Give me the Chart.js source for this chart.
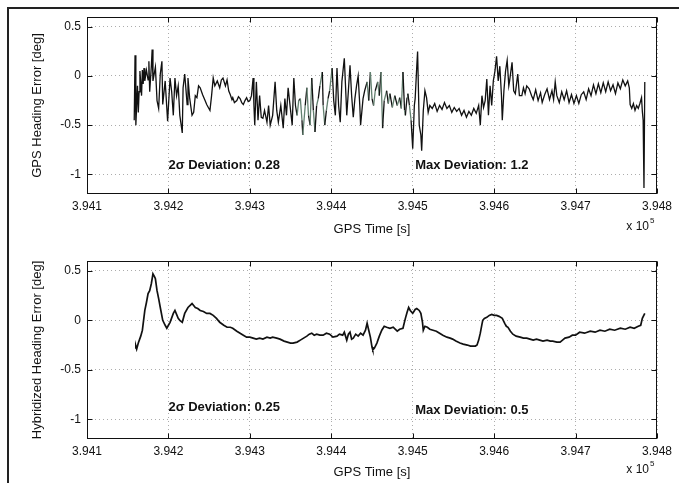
<!DOCTYPE html>
<html><head><meta charset="utf-8">
<script src="https://cdn.jsdelivr.net/npm/chart.js@4.4.1/dist/chart.umd.min.js"></script>
<style>
html,body{margin:0;padding:0;background:#fff;}
body{width:679px;height:483px;position:relative;overflow:hidden;}
#frame{position:absolute;left:7px;top:7px;width:720px;height:520px;border-top:2px solid #222;border-left:2px solid #222;}
canvas{position:absolute;left:0;}
#c1{top:0;}
#c2{top:240px;}
</style></head><body>
<div id="frame"></div>
<canvas id="c1" width="679" height="240"></canvas>
<canvas id="c2" width="679" height="243"></canvas>
<script>
// ---- tick values / labels (time in units of 1e5 s) ----
const xTickValues = [3.941, 3.942, 3.943, 3.944, 3.945, 3.946, 3.947, 3.948];
const xTickLabels = ['3.941', '3.942', '3.943', '3.944', '3.945', '3.946', '3.947', '3.948'];
const yTickValues = [-1, -0.5, 0, 0.5];
const yTickLabels = ['-1', '-0.5', '0', '0.5'];

// ---- GPS heading error (deg) ----
const gpsTime = [
3.94158,3.94159,3.94160,3.94162,3.94163,3.94164,3.94165,3.94167,3.94168,3.94169,
3.94170,3.94171,3.94173,3.94175,3.94176,3.94177,3.94179,3.94180,3.94181,3.94184,
3.94186,3.94188,3.94190,3.94192,3.94193,3.94196,3.94199,3.94202,3.94204,3.94206,
3.94208,3.94210,3.94212,3.94214,3.94217,3.94218,3.94220,3.94223,3.94224,3.94226,
3.94229,3.94231,3.94233,3.94235,3.94237,3.94239,3.94242,3.94245,3.94247,3.94249,
3.94251,3.94253,3.94255,3.94257,3.94260,3.94263,3.94265,3.94267,3.94270,3.94272,
3.94274,3.94276,3.94278,3.94279,3.94281,3.94284,3.94286,3.94288,3.94290,3.94292,
3.94294,3.94296,3.94298,3.94300,3.94302,3.94304,3.94305,3.94306,3.94308,3.94310,
3.94312,3.94314,3.94316,3.94318,3.94321,3.94323,3.94325,3.94328,3.94331,3.94333,
3.94335,3.94338,3.94341,3.94343,3.94345,3.94347,3.94350,3.94352,3.94354,3.94356,
3.94358,3.94360,3.94362,3.94364,3.94365,3.94368,3.94370,3.94372,3.94374,3.94376,
3.94378,3.94380,3.94382,3.94384,3.94386,3.94389,3.94390,3.94392,3.94394,3.94396,
3.94398,3.94401,3.94403,3.94405,3.94407,3.94409,3.94411,3.94413,3.94416,3.94418,
3.94419,3.94421,3.94423,3.94425,3.94427,3.94429,3.94431,3.94433,3.94435,3.94436,
3.94439,3.94441,3.94444,3.94446,3.94448,3.94450,3.94452,3.94454,3.94457,3.94459,
3.94461,3.94463,3.94465,3.94468,3.94470,3.94472,3.94475,3.94478,3.94481,3.94484,
3.94486,3.94488,3.94490,3.94491,3.94493,3.94494,3.94496,3.94498,3.94500,3.94502,
3.94503,3.94505,3.94506,3.94508,3.94510,3.94511,3.94513,3.94515,3.94517,3.94519,
3.94521,3.94524,3.94527,3.94530,3.94533,3.94536,3.94539,3.94542,3.94545,3.94548,
3.94551,3.94554,3.94557,3.94560,3.94563,3.94566,3.94569,3.94572,3.94575,3.94578,
3.94581,3.94583,3.94585,3.94587,3.94589,3.94591,3.94593,3.94595,3.94597,3.94599,
3.94601,3.94603,3.94605,3.94607,3.94609,3.94610,3.94612,3.94614,3.94616,3.94618,
3.94619,3.94622,3.94624,3.94626,3.94629,3.94631,3.94634,3.94636,3.94638,3.94640,
3.94643,3.94646,3.94648,3.94651,3.94654,3.94657,3.94659,3.94662,3.94665,3.94668,
3.94671,3.94673,3.94675,3.94677,3.94680,3.94683,3.94686,3.94689,3.94692,3.94695,
3.94698,3.94701,3.94704,3.94707,3.94710,3.94713,3.94716,3.94719,3.94722,3.94725,
3.94728,3.94731,3.94734,3.94737,3.94740,3.94743,3.94746,3.94749,3.94752,3.94755,
3.94758,3.94761,3.94764,3.94766,3.94767,3.94769,3.94771,3.94773,3.94775,3.94777,
3.94779,3.94781,3.94782,3.94783,3.94784,3.94785
];
const gpsError = [
-0.45,0.21,-0.50,-0.10,-0.37,-0.16,0.05,-0.20,0.06,-0.08,
0.08,-0.05,0.06,-0.04,0.15,-0.16,0.10,0.27,-0.05,0.09,
-0.25,-0.33,0.02,0.15,-0.29,-0.05,-0.46,-0.02,-0.16,-0.40,
-0.02,-0.20,-0.10,-0.40,-0.58,-0.12,0.02,-0.29,-0.02,-0.22,
-0.40,-0.37,-0.20,-0.22,-0.10,-0.12,-0.19,-0.25,-0.29,-0.32,
-0.35,-0.20,-0.02,-0.10,-0.05,-0.12,-0.04,-0.02,-0.10,-0.04,
-0.15,-0.19,-0.24,-0.22,-0.27,-0.25,-0.21,-0.23,-0.27,-0.29,
-0.25,-0.22,-0.26,-0.25,-0.20,-0.02,-0.30,-0.50,-0.06,-0.45,
-0.20,-0.42,-0.43,-0.35,-0.47,-0.30,-0.50,-0.40,-0.06,-0.35,
-0.47,-0.30,-0.53,-0.23,-0.40,-0.12,-0.35,-0.50,-0.02,-0.30,
-0.40,-0.25,-0.23,-0.45,-0.60,-0.30,-0.12,-0.40,-0.50,-0.02,
-0.35,-0.57,-0.30,-0.23,-0.10,0.04,-0.30,-0.50,-0.35,-0.23,
-0.15,0.08,-0.25,-0.40,0.08,-0.30,-0.47,-0.06,0.18,-0.20,
-0.40,-0.15,0.11,-0.20,-0.42,-0.23,-0.10,0.00,-0.30,-0.50,
-0.23,-0.15,-0.06,-0.25,0.04,-0.23,-0.30,-0.15,-0.06,-0.20,
0.04,-0.53,-0.25,-0.15,-0.28,-0.18,-0.32,-0.20,-0.30,-0.22,
-0.33,0.04,-0.35,-0.40,-0.22,-0.18,-0.30,-0.45,-0.74,-0.30,
-0.23,0.10,0.25,-0.50,-0.60,-0.76,-0.35,-0.15,-0.22,-0.37,
-0.30,-0.33,-0.28,-0.36,-0.30,-0.34,-0.27,-0.33,-0.30,-0.37,
-0.32,-0.36,-0.33,-0.40,-0.35,-0.42,-0.36,-0.40,-0.33,-0.38,
-0.30,-0.50,-0.20,-0.32,-0.25,-0.03,-0.40,-0.10,-0.30,-0.05,
0.05,0.20,-0.05,0.10,-0.20,-0.45,-0.15,0.05,0.16,-0.10,
-0.05,0.14,-0.15,-0.18,0.02,-0.20,-0.20,-0.12,-0.18,-0.10,
-0.13,-0.20,-0.24,-0.14,-0.25,-0.17,-0.27,-0.19,-0.13,-0.24,
-0.15,-0.24,-0.06,-0.20,-0.27,-0.16,-0.24,-0.15,-0.27,-0.19,
-0.28,-0.20,-0.28,-0.19,-0.16,-0.24,-0.13,-0.20,-0.09,-0.18,
-0.08,-0.17,-0.07,-0.16,-0.06,-0.15,-0.09,-0.18,-0.07,-0.13,
-0.04,-0.10,-0.05,-0.12,-0.29,-0.33,-0.28,-0.35,-0.30,-0.33,
-0.28,-0.22,-0.36,-0.45,-1.14,-0.06
];

// ---- Hybridized heading error (deg) ----
const hybTime = [
3.94159,3.94160,3.94161,3.94163,3.94166,3.94168,3.94171,3.94173,3.94175,3.94177,
3.94179,3.94181,3.94183,3.94184,3.94186,3.94188,3.94190,3.94193,3.94196,3.94198,
3.94200,3.94202,3.94206,3.94208,3.94210,3.94212,3.94214,3.94217,3.94220,3.94224,
3.94229,3.94233,3.94236,3.94239,3.94243,3.94247,3.94251,3.94255,3.94259,3.94263,
3.94268,3.94272,3.94276,3.94279,3.94284,3.94288,3.94292,3.94296,3.94300,3.94304,
3.94308,3.94312,3.94316,3.94321,3.94325,3.94328,3.94333,3.94337,3.94342,3.94346,
3.94350,3.94353,3.94358,3.94362,3.94366,3.94370,3.94373,3.94376,3.94379,3.94382,
3.94386,3.94390,3.94394,3.94398,3.94402,3.94407,3.94410,3.94414,3.94416,3.94419,
3.94421,3.94423,3.94425,3.94427,3.94430,3.94433,3.94436,3.94439,3.94442,3.94444,
3.94446,3.94448,3.94450,3.94451,3.94453,3.94456,3.94459,3.94462,3.94465,3.94468,
3.94472,3.94476,3.94481,3.94484,3.94488,3.94491,3.94493,3.94495,3.94497,3.94500,
3.94503,3.94505,3.94508,3.94510,3.94512,3.94513,3.94515,3.94518,3.94521,3.94525,
3.94529,3.94533,3.94537,3.94542,3.94546,3.94549,3.94553,3.94558,3.94562,3.94567,
3.94571,3.94574,3.94577,3.94579,3.94581,3.94583,3.94585,3.94586,3.94588,3.94591,
3.94594,3.94597,3.94600,3.94603,3.94606,3.94610,3.94613,3.94615,3.94617,3.94620,
3.94623,3.94627,3.94632,3.94636,3.94640,3.94644,3.94648,3.94652,3.94656,3.94660,
3.94665,3.94669,3.94672,3.94677,3.94681,3.94684,3.94687,3.94692,3.94696,3.94700,
3.94705,3.94711,3.94718,3.94724,3.94730,3.94736,3.94742,3.94748,3.94755,3.94761,
3.94767,3.94772,3.94777,3.94780,3.94782,3.94785
];
const hybError = [
-0.28,-0.26,-0.29,-0.23,-0.16,-0.10,0.10,0.18,0.27,0.30,
0.37,0.47,0.44,0.42,0.30,0.22,0.13,0.00,-0.05,-0.08,
-0.05,-0.02,0.07,0.10,0.06,0.02,0.00,-0.02,0.07,0.13,
0.17,0.13,0.12,0.10,0.09,0.07,0.07,0.05,0.02,-0.02,
-0.05,-0.07,-0.07,-0.08,-0.11,-0.13,-0.15,-0.17,-0.17,-0.18,
-0.19,-0.18,-0.19,-0.17,-0.18,-0.17,-0.18,-0.19,-0.21,-0.22,
-0.23,-0.23,-0.22,-0.20,-0.18,-0.16,-0.14,-0.13,-0.15,-0.14,
-0.15,-0.15,-0.13,-0.14,-0.17,-0.16,-0.14,-0.15,-0.12,-0.20,
-0.14,-0.12,-0.19,-0.18,-0.14,-0.16,-0.13,-0.15,-0.10,-0.03,
-0.10,-0.17,-0.27,-0.30,-0.28,-0.23,-0.16,-0.10,-0.06,-0.07,
-0.08,-0.07,-0.11,-0.09,-0.08,0.02,0.08,0.13,0.10,0.07,
0.11,0.12,0.10,0.07,-0.02,-0.10,-0.06,-0.07,-0.09,-0.10,
-0.11,-0.13,-0.15,-0.17,-0.18,-0.19,-0.21,-0.23,-0.24,-0.25,
-0.26,-0.26,-0.26,-0.25,-0.20,-0.13,-0.04,0.00,0.02,0.03,
0.05,0.06,0.05,0.05,0.04,0.02,-0.03,-0.06,-0.07,-0.11,
-0.14,-0.16,-0.17,-0.18,-0.18,-0.19,-0.20,-0.19,-0.20,-0.21,
-0.20,-0.21,-0.21,-0.22,-0.22,-0.20,-0.18,-0.17,-0.15,-0.15,
-0.12,-0.13,-0.11,-0.12,-0.10,-0.11,-0.09,-0.10,-0.08,-0.09,
-0.07,-0.08,-0.06,-0.05,0.02,0.07
];

const FONT = '"Liberation Sans", Arial, Helvetica, sans-serif';

const frameTicks = {
  id: 'frameTicks',
  afterDraw(chart, args, o) {
    const {ctx, chartArea: a, scales: {x, y}} = chart;
    ctx.save();
    ctx.strokeStyle = '#111';
    ctx.lineWidth = 1;
    const l = Math.round(a.left) + 0.5, t = Math.round(a.top) + 0.5;
    const r = Math.round(a.right) - 0.5, b = Math.round(a.bottom) - 0.5;
    ctx.strokeRect(l, t, r - l, b - t);
    const L = 5;
    ctx.beginPath();
    x.ticks.forEach(tk => {
      const px = Math.round(x.getPixelForValue(tk.value)) + 0.5;
      ctx.moveTo(px, b); ctx.lineTo(px, b - L);
      ctx.moveTo(px, t); ctx.lineTo(px, t + L);
    });
    y.ticks.forEach(tk => {
      const py = Math.round(y.getPixelForValue(tk.value)) + 0.5;
      ctx.moveTo(l, py); ctx.lineTo(l + L, py);
      ctx.moveTo(r, py); ctx.lineTo(r - L, py);
    });
    ctx.stroke();
    ctx.fillStyle = '#111';
    ctx.font = 'bold 13px ' + FONT;
    ctx.textBaseline = 'middle';
    ctx.textAlign = 'left';
    (o.notes || []).forEach(n => ctx.fillText(n.text, x.getPixelForValue(n.x), y.getPixelForValue(n.y)));
    // exponent label
    ctx.font = '12px ' + FONT;
    ctx.textAlign = 'right';
    const ey = a.bottom + o.expOffset;
    ctx.fillText('x 10', a.right - 8, ey);
    ctx.font = '8px ' + FONT;
    ctx.textAlign = 'left';
    ctx.fillText('5', a.right - 7, ey - 6);
    ctx.restore();
  }
};

function makeChart(id, times, values, yTitle, notes, opts) {
  const pts = times.map((t, i) => ({x: t, y: values[i]}));
  return new Chart(document.getElementById(id), {
    type: 'scatter',
    data: {datasets: [{
      data: pts,
      showLine: true,
      borderColor: '#111',
      borderWidth: opts.lineWidth,
      pointRadius: 0,
      tension: 0,
      segment: opts.segment || {}
    }]},
    options: {
      responsive: false,
      animation: false,
      events: [],
      layout: {padding: {top: opts.top, right: 22, left: 0, bottom: 0}},
      plugins: {
        legend: {display: false},
        tooltip: {enabled: false},
        frameTicks: {notes: notes, expOffset: opts.expOffset}
      },
      scales: {
        x: {
          type: 'linear', min: 3.941, max: 3.948,
          afterBuildTicks: s => { s.ticks = xTickValues.map(v => ({value: v})); },
          afterFit: s => { s.height = opts.xh; },
          ticks: {
            autoSkip: false, maxRotation: 0, padding: 5, color: '#111',
            font: {family: FONT, size: 12},
            callback: v => xTickLabels[xTickValues.indexOf(v)]
          },
          grid: {color: '#acacac', lineWidth: 1, drawTicks: false},
          border: {display: false, dash: [1, 3]},
          title: {display: true, text: 'GPS Time [s]', color: '#111',
                  font: {family: FONT, size: 13}, padding: {top: 0, bottom: 3}}
        },
        y: {
          type: 'linear', min: -1.2, max: 0.6,
          afterBuildTicks: s => { s.ticks = yTickValues.map(v => ({value: v})); },
          afterFit: s => { s.width = 87; },
          ticks: {
            autoSkip: false, padding: 6, color: '#111',
            font: {family: FONT, size: 12},
            callback: v => yTickLabels[yTickValues.indexOf(v)]
          },
          grid: {color: '#acacac', lineWidth: 1, drawTicks: false},
          border: {display: false, dash: [1, 3]},
          title: {display: true, text: yTitle, color: '#111',
                  font: {family: FONT, size: 13}, padding: {top: 30, bottom: 0}}
        }
      }
    },
    plugins: [frameTicks]
  });
}

const greenish = ctx => {
  const t = ctx.p0.parsed.x;
  const inBand = (t > 3.94355 && t < 3.94400) || (t > 3.94440 && t < 3.94500);
  return (inBand && ctx.p0DataIndex % 2 === 0) ? '#62806f' : '#111';
};

makeChart('c1', gpsTime, gpsError, 'GPS Heading Error [deg]',
  [{text: '2\u03c3 Deviation: 0.28', x: 3.94200, y: -0.91},
   {text: 'Max Deviation: 1.2', x: 3.94503, y: -0.91}],
  {top: 17, xh: 46, lineWidth: 1.3, expOffset: 33, segment: {borderColor: greenish}});

makeChart('c2', hybTime, hybError, 'Hybridized Heading Error [deg]',
  [{text: '2\u03c3 Deviation: 0.25', x: 3.94200, y: -0.88},
   {text: 'Max Deviation: 0.5', x: 3.94503, y: -0.91}],
  {top: 21, xh: 44, lineWidth: 1.7, expOffset: 31});
</script>
</body></html>
